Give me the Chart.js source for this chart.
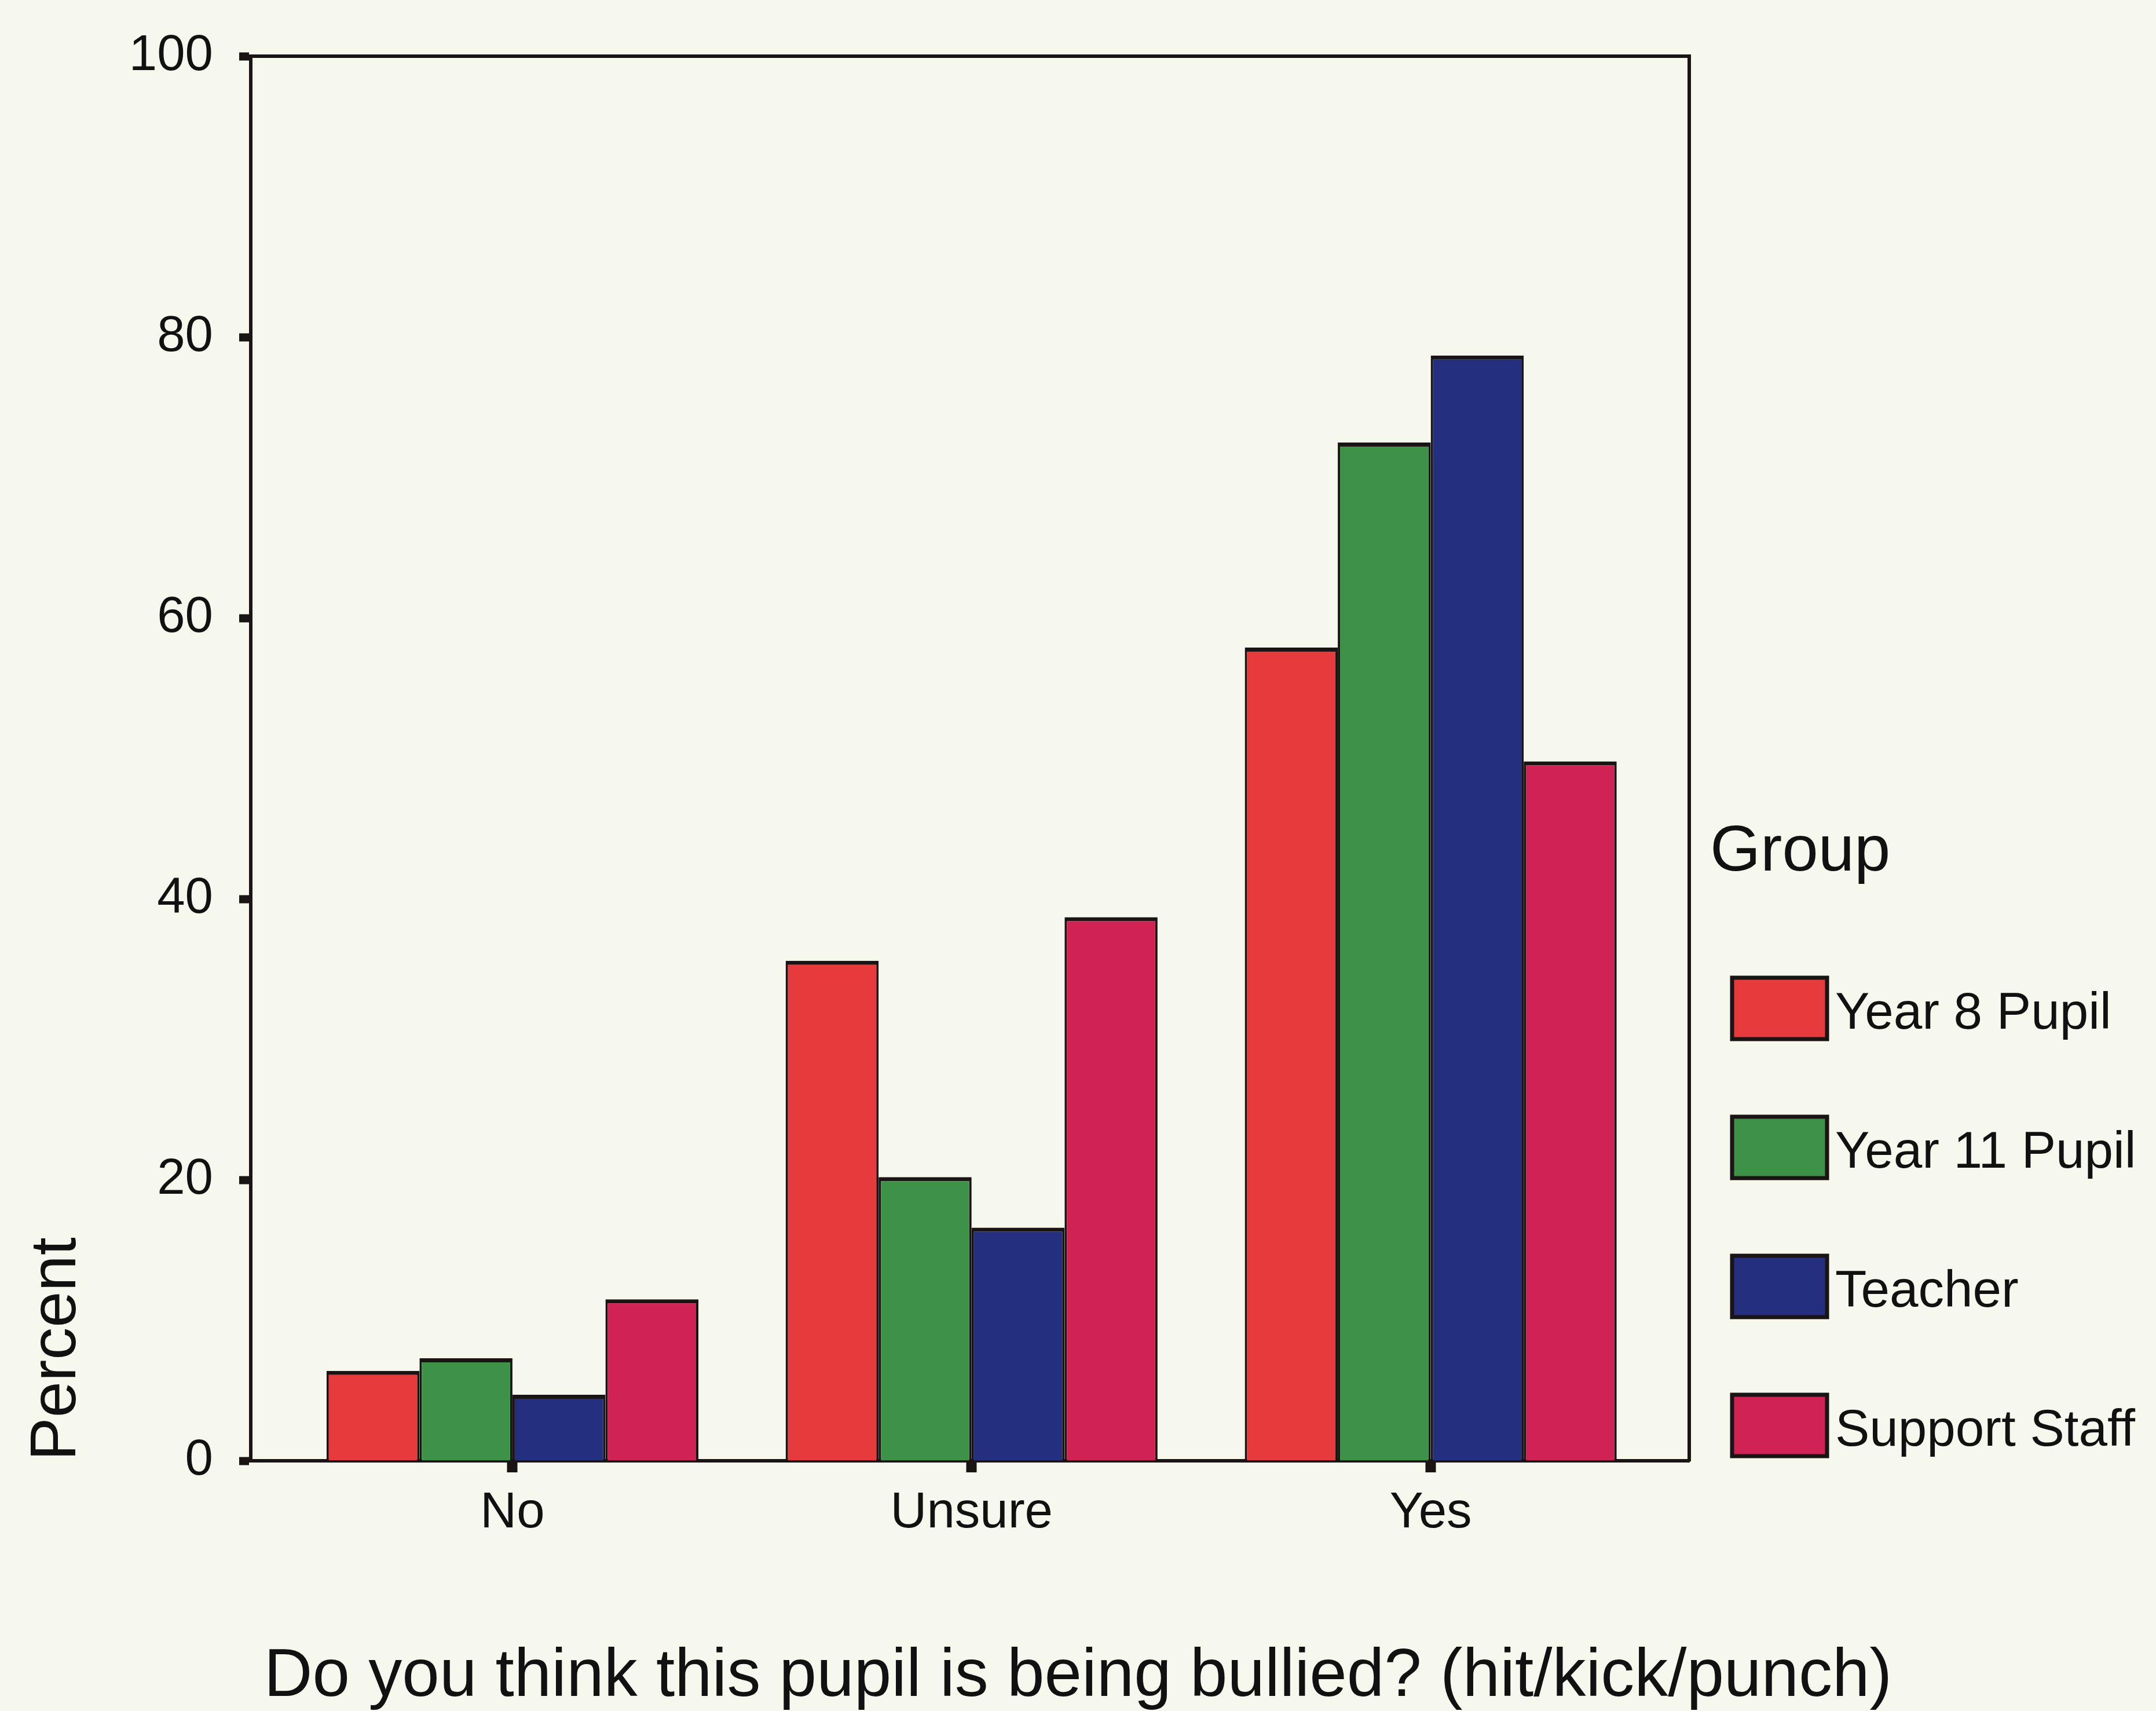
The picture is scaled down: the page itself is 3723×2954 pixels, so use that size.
<!DOCTYPE html>
<html>
<head>
<meta charset="UTF-8">
<title>Bullied - hit/kick/punch</title>
<script src="https://cdn.jsdelivr.net/npm/chart.js@4.4.0/dist/chart.umd.min.js"></script>
<style>
  body { margin: 0; background: #f6f8ee; }
</style>
</head>
<body>
<canvas id="chart" width="3723" height="2954"></canvas>
<script>
var categories = ['No', 'Unsure', 'Yes'];
var groupNames = ['Year 8 Pupil', 'Year 11 Pupil', 'Teacher', 'Support Staff'];
var year8 = [6.4, 35.6, 57.9];
var year11 = [7.3, 20.2, 72.5];
var teacher = [4.7, 16.6, 78.7];
var support = [11.5, 38.7, 49.8];
var yTicks = [0, 20, 40, 60, 80, 100];
var colors = ['#e63a3c', '#3e9248', '#24307f', '#d12254'];

var ink = '#1b1414';
var fontFam = "'Liberation Sans', Arial, sans-serif";
Chart.defaults.font.family = fontFam;
Chart.defaults.color = '#111';

var series = [year8, year11, teacher, support];
var datasets = series.map(function(vals, k) {
  return {
    label: groupNames[k],
    data: vals.map(function(v, i) { return {x: i + 1, y: v}; }),
    backgroundColor: colors[k],
    borderColor: ink,
    borderWidth: {top: 7, left: 4, right: 4, bottom: 0},
    borderSkipped: 'start',
    barPercentage: 1.0,
    categoryPercentage: 0.81
  };
});

// legend on the right, "Group" heading + boxes
var groupLegend = {
  id: 'groupLegend',
  afterDraw: function(chart) {
    var ctx = chart.ctx;
    var x0 = chart.chartArea.right;
    ctx.save();
    ctx.fillStyle = '#111';
    ctx.font = '112px ' + fontFam;
    ctx.textBaseline = 'alphabetic';
    ctx.textAlign = 'left';
    ctx.fillText('Group', x0 + 36, 1503);
    chart.data.datasets.forEach(function(ds, i) {
      var cy = 1741 + i * 240;
      ctx.fillStyle = ds.backgroundColor;
      ctx.fillRect(x0 + 74, cy - 53, 164, 106);
      ctx.lineWidth = 7;
      ctx.strokeStyle = ink;
      ctx.strokeRect(x0 + 74, cy - 53, 164, 106);
      ctx.fillStyle = '#111';
      ctx.font = '89px ' + fontFam;
      ctx.textBaseline = 'middle';
      ctx.fillText(ds.label, x0 + 252, cy + 10);
    });
    ctx.restore();
  }
};

new Chart(document.getElementById('chart'), {
  type: 'bar',
  data: { datasets: datasets },
  options: {
    responsive: false,
    animation: false,
    devicePixelRatio: 1,
    layout: { padding: 0 },
    plugins: {
      legend: { display: false },
      tooltip: { enabled: false },
      title: {
        display: true,
        position: 'bottom',
        text: 'Do you think this pupil is being bullied? (hit/kick/punch)',
        font: { size: 116, weight: 'normal', lineHeight: 1 },
        color: '#111',
        padding: 0
      }
    },
    scales: {
      x: {
        type: 'linear',
        position: 'bottom',
        min: 0.43,
        max: 3.563,
        offset: false,
        z: 1,
        afterBuildTicks: function(scale) {
          scale.ticks = categories.map(function(c, i) { return {value: i + 1}; });
        },
        afterFit: function(scale) { scale.height = 316; },
        ticks: {
          font: { size: 87 },
          color: '#111',
          padding: 19,
          maxRotation: 0,
          autoSkip: false,
          callback: function(v) { return categories[Math.round(v) - 1]; }
        },
        grid: {
          display: true,
          offset: false,
          drawOnChartArea: false,
          drawTicks: true,
          tickLength: 20,
          tickWidth: 18,
          tickColor: ink
        },
        border: { display: true, color: ink, width: 6 }
      },
      x2: {
        type: 'linear',
        position: 'top',
        offset: false,
        afterFit: function(scale) { scale.height = 80; },
        ticks: { display: false },
        grid: { display: false },
        border: { display: true, color: ink, width: 6 }
      },
      y: {
        type: 'linear',
        position: 'left',
        min: 0,
        max: 100,
        afterBuildTicks: function(scale) {
          scale.ticks = yTicks.map(function(v) { return {value: v}; });
        },
        afterFit: function(scale) { scale.width = 433; },
        ticks: {
          font: { size: 87 },
          color: '#111',
          padding: 45
        },
        grid: {
          display: true,
          drawOnChartArea: false,
          drawTicks: true,
          tickLength: 20,
          tickWidth: 14,
          tickColor: ink
        },
        border: { display: true, color: ink, width: 6 },
        title: {
          display: true,
          text: 'Percent',
          align: 'start',
          font: { size: 112, weight: 'normal' },
          color: '#111',
          padding: { top: 32, bottom: 0 }
        }
      },
      y2: {
        type: 'linear',
        position: 'right',
        afterFit: function(scale) { scale.width = 806; },
        ticks: { display: false },
        grid: { display: false },
        border: { display: true, color: ink, width: 6 }
      }
    }
  },
  plugins: [groupLegend]
});
</script>
</body>
</html>
